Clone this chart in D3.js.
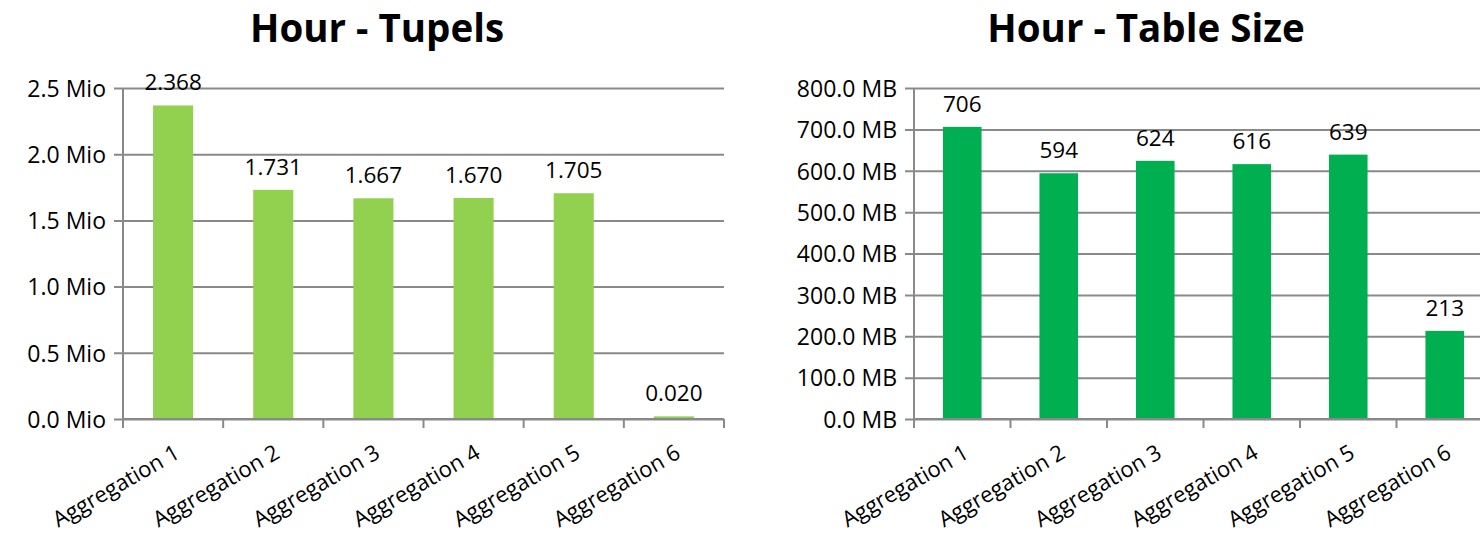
<!DOCTYPE html>
<html>
<head>
<meta charset="utf-8">
<script src="https://cdn.jsdelivr.net/npm/d3@7/dist/d3.min.js"></script>
<style>
  html, body { margin: 0; padding: 0; background: #ffffff; }
  svg { display: block; font-family: "Open Sans", "DejaVu Sans", sans-serif; }
</style>
</head>
<body>
<svg id="chart" width="1480" height="537"></svg>
<script>
// Categories shared by both panels
const categories = ["Aggregation 1", "Aggregation 2", "Aggregation 3", "Aggregation 4", "Aggregation 5", "Aggregation 6"];

// Tuple counts in millions
const tupelValues = [2.368, 1.731, 1.667, 1.670, 1.705, 0.020];
const tupelTicks = [0, 0.5, 1.0, 1.5, 2.0, 2.5];

// Table size in MB
const sizeValues = [706, 594, 624, 616, 639, 213];
const sizeTicks = [0, 100, 200, 300, 400, 500, 600, 700, 800];

const svg = d3.select("#chart");
const gridColor = "#898989";

const panels = [
  {
    title: "Hour - Tupels",
    titleX: 377,
    values: tupelValues,
    ticks: tupelTicks,
    domainMax: 2.5,
    tickFormat: d => d3.format(".1f")(d) + " Mio",
    labelFormat: d3.format(".3f"),
    color: "#92D050",
    x0: 123, x1: 724,
    y0: 419, y1: 88
  },
  {
    title: "Hour - Table Size",
    titleX: 1146,
    values: sizeValues,
    ticks: sizeTicks,
    domainMax: 800,
    tickFormat: d => d3.format(".1f")(d) + " MB",
    labelFormat: d3.format(".0f"),
    color: "#00B050",
    x0: 914, x1: 1493,
    y0: 419, y1: 88
  }
];

panels.forEach(p => {
  const g = svg.append("g");

  const x = d3.scaleBand()
    .domain(categories)
    .range([p.x0, p.x1])
    .paddingInner(0.6)
    .paddingOuter(0.3);

  const y = d3.scaleLinear()
    .domain([0, p.domainMax])
    .range([p.y0, p.y1]);

  // Title
  g.append("text")
    .attr("x", p.titleX)
    .attr("y", 42)
    .attr("text-anchor", "middle")
    .attr("font-size", 38.5)
    .attr("font-weight", "bold")
    .attr("fill", "#000")
    .text(p.title);

  // Horizontal gridlines with left tick stubs
  const yAxis = d3.axisLeft(y)
    .tickValues(p.ticks)
    .tickSizeInner(-(p.x1 - p.x0))
    .tickSizeOuter(0)
    .tickPadding(17)
    .tickFormat(p.tickFormat);

  const ya = g.append("g")
    .attr("transform", `translate(${p.x0},0)`)
    .call(yAxis);
  ya.select(".domain").remove();
  ya.selectAll(".tick line")
    .attr("x1", -9)
    .attr("stroke", gridColor)
    .attr("stroke-width", 2);
  ya.selectAll(".tick text")
    .attr("font-size", 23)
    .attr("font-family", "'Open Sans', sans-serif")
    .attr("fill", "#000")
    .attr("dy", "0.36em");

  // Bars
  g.selectAll("rect.bar")
    .data(p.values)
    .join("rect")
    .attr("class", "bar")
    .attr("x", (d, i) => x(categories[i]))
    .attr("width", x.bandwidth())
    .attr("y", d => y(d))
    .attr("height", d => y(0) - y(d))
    .attr("fill", p.color);

  // Value labels
  g.selectAll("text.val")
    .data(p.values)
    .join("text")
    .attr("class", "val")
    .attr("x", (d, i) => x(categories[i]) + x.bandwidth() / 2)
    .attr("y", d => y(d) - 15)
    .attr("text-anchor", "middle")
    .attr("font-size", 22.5)
    .attr("fill", "#000")
    .text(d => p.labelFormat(d));

  // Value axis line
  g.append("line")
    .attr("x1", p.x0).attr("x2", p.x0)
    .attr("y1", p.y1).attr("y2", p.y0)
    .attr("stroke", gridColor).attr("stroke-width", 2);

  // Category axis line and boundary ticks
  g.append("line")
    .attr("x1", p.x0).attr("x2", p.x1)
    .attr("y1", p.y0).attr("y2", p.y0)
    .attr("stroke", gridColor).attr("stroke-width", 2);

  const boundaries = d3.range(categories.length + 1).map(i => p.x0 + i * x.step());
  g.selectAll("line.xtick")
    .data(boundaries)
    .join("line")
    .attr("class", "xtick")
    .attr("x1", d => d).attr("x2", d => d)
    .attr("y1", p.y0).attr("y2", p.y0 + 9)
    .attr("stroke", gridColor).attr("stroke-width", 2);

  // Rotated category labels
  g.selectAll("text.cat")
    .data(categories)
    .join("text")
    .attr("class", "cat")
    .attr("transform", d => `translate(${x(d) + x.bandwidth() / 2 + 8},${p.y0 + 38}) rotate(-30)`)
    .attr("text-anchor", "end")
    .attr("font-size", 22)
    .attr("fill", "#000")
    .text(d => d);
});
</script>
</body>
</html>
